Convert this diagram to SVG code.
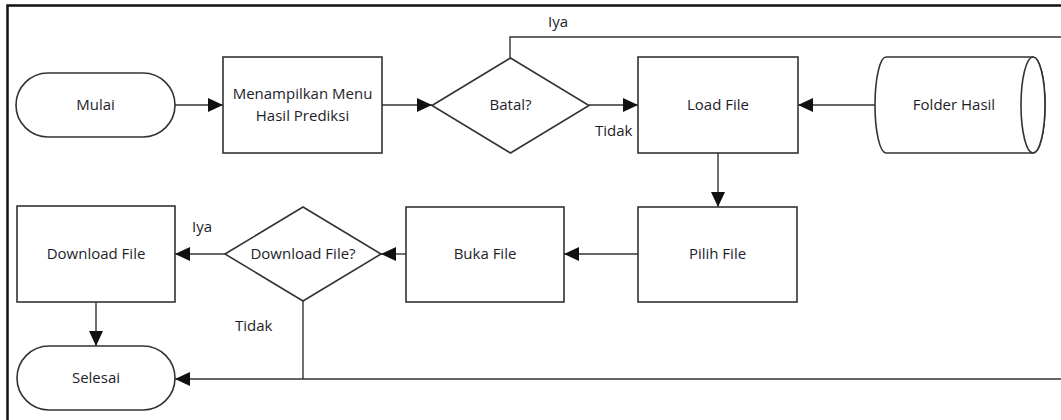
<svg xmlns="http://www.w3.org/2000/svg" width="1061" height="420" viewBox="0 0 1061 420">
  <defs>
    <marker id="arrow" markerUnits="userSpaceOnUse" markerWidth="15" markerHeight="14" refX="15" refY="7" orient="auto">
      <path d="M0,0 L15,7 L0,14 Z" fill="#111"/>
    </marker>
    <style>
      .shape { fill: #fff; stroke: #333; stroke-width: 1.6; }
      .edge { fill: none; stroke: #333; stroke-width: 1.4; }
      .label { font-family: "Open Sans", "Noto Sans", sans-serif; font-size: 15px; fill: #1e1e2a; text-anchor: middle; }
      .note { font-family: "Open Sans", "Noto Sans", sans-serif; font-size: 15px; fill: #1e1e2a; }
    </style>
  </defs>

  <rect width="1061" height="420" fill="#fff"/>
  <!-- frame -->
  <path d="M7.5,420 L7.5,5.5 L1061,5.5" fill="none" stroke="#111" stroke-width="2.5"/>

  <g id="connectors">
    <line class="edge" x1="175" y1="105" x2="223" y2="105" marker-end="url(#arrow)"/>
    <line class="edge" x1="382" y1="105" x2="432" y2="105" marker-end="url(#arrow)"/>
    <line class="edge" x1="589" y1="105" x2="638" y2="105" marker-end="url(#arrow)"/>
    <line class="edge" x1="875" y1="105" x2="798" y2="105" marker-end="url(#arrow)"/>
    <polyline class="edge" points="510,58 510,37 1061,37"/>
    <line class="edge" x1="718" y1="153" x2="718" y2="207" marker-end="url(#arrow)"/>
    <line class="edge" x1="638" y1="254" x2="564" y2="254" marker-end="url(#arrow)"/>
    <line class="edge" x1="406" y1="254" x2="381" y2="254" marker-end="url(#arrow)"/>
    <line class="edge" x1="225" y1="254" x2="175" y2="254" marker-end="url(#arrow)"/>
    <line class="edge" x1="96" y1="302" x2="96" y2="346" marker-end="url(#arrow)"/>
    <polyline class="edge" points="303,301 303,379"/>
    <line class="edge" x1="1061" y1="379" x2="175" y2="379" marker-end="url(#arrow)"/>
    <text class="note" x="548" y="27">Iya</text>
    <text class="note" x="595" y="136">Tidak</text>
    <text class="note" x="192" y="232">Iya</text>
    <text class="note" x="235" y="331">Tidak</text>
  </g>

  <g id="mulai">
    <rect class="shape" x="16" y="73" width="159" height="64" rx="32" ry="32"/>
    <text class="label" x="95.5" y="110">Mulai</text>
  </g>

  <g id="menampilkan-menu">
    <rect class="shape" x="223" y="57" width="159" height="96"/>
    <text class="label" x="302.5" y="99">Menampilkan Menu</text>
    <text class="label" x="302.5" y="121">Hasil Prediksi</text>
  </g>

  <g id="batal">
    <polygon class="shape" points="432,105.5 510.5,58 589,105.5 510.5,153"/>
    <text class="label" x="510.5" y="110">Batal?</text>
  </g>

  <g id="load-file">
    <rect class="shape" x="638" y="57" width="160" height="96"/>
    <text class="label" x="718" y="110">Load File</text>
  </g>

  <g id="folder-hasil">
    <path class="shape" d="M886,57 L1033,57 A12,48 0 0 1 1033,153 L886,153 A11,48 0 0 1 886,57 Z"/>
    <ellipse class="shape" cx="1033" cy="105" rx="12" ry="48" fill="none"/>
    <text class="label" x="954" y="110">Folder Hasil</text>
  </g>

  <g id="pilih-file">
    <rect class="shape" x="638" y="207" width="159" height="95"/>
    <text class="label" x="717.5" y="259">Pilih File</text>
  </g>

  <g id="buka-file">
    <rect class="shape" x="406" y="207" width="158" height="95"/>
    <text class="label" x="485" y="259">Buka File</text>
  </g>

  <g id="download-file-decision">
    <polygon class="shape" points="225,254 303,207 381,254 303,301"/>
    <text class="label" x="303" y="259">Download File?</text>
  </g>

  <g id="download-file">
    <rect class="shape" x="17" y="206" width="158" height="96"/>
    <text class="label" x="96" y="259">Download File</text>
  </g>

  <g id="selesai">
    <rect class="shape" x="17" y="346" width="158" height="64" rx="32" ry="32"/>
    <text class="label" x="96" y="383">Selesai</text>
  </g>
</svg>
